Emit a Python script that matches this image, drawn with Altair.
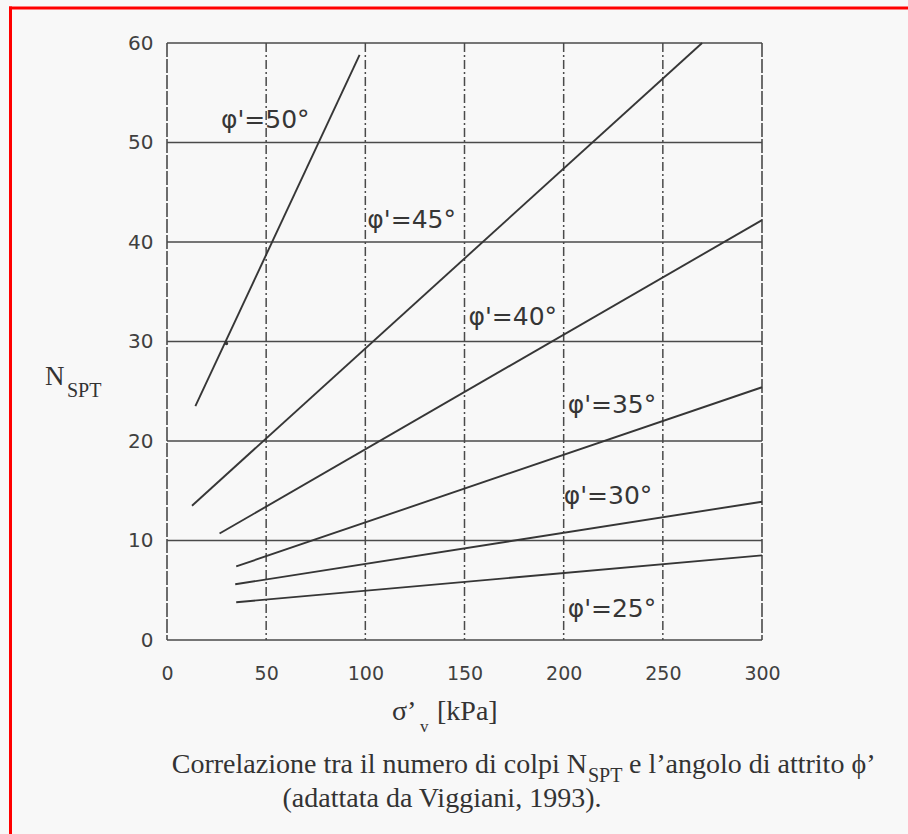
import altair as alt
import pandas as pd

# N_SPT against effective vertical stress, one straight segment per friction angle
angles = ["50", "45", "40", "35", "30", "25"]
sigma_start = [14.3, 12.6, 26.5, 34.9, 34.4, 34.9]
n_start = [23.5, 13.5, 10.7, 7.4, 5.6, 3.8]
sigma_end = [97.1, 269.8, 300.0, 300.0, 300.0, 300.0]
n_end = [58.8, 60.0, 42.2, 25.4, 13.9, 8.5]

# curve labels
label_text = ["φ'=50°", "φ'=45°", "φ'=40°", "φ'=35°", "φ'=30°", "φ'=25°"]
label_sigma = [27.2, 101.0, 152.0, 202.0, 200.0, 202.0]
label_n = [51.5, 41.4, 31.7, 22.8, 13.7, 2.3]

# small marker on the 50° curve
dot_sigma = [30.0]
dot_n = [29.8]

x_ticks = [0, 50, 100, 150, 200, 250, 300]
y_ticks = [0, 10, 20, 30, 40, 50, 60]

W, H = 595, 597
INK = "#363636"
SANS = "DejaVu Sans"
SERIF = "Liberation Serif"

x_scale = alt.Scale(domain=[0, 300], nice=False, zero=False)
y_scale = alt.Scale(domain=[0, 60], nice=False, zero=False)

X_AX = alt.Axis(values=x_ticks, grid=False, ticks=False, domain=False, title=None,
                labelFont=SANS, labelFontSize=19, labelColor="#404040",
                labelPadding=24, labelFlush=False)
Y_AX = alt.Axis(values=y_ticks, grid=False, ticks=False, domain=False, title=None,
                labelFont=SANS, labelFontSize=20, labelColor="#404040",
                labelPadding=14, labelFlush=False)

curves = pd.DataFrame({"angle": angles, "s0": sigma_start, "n0": n_start,
                       "s1": sigma_end, "n1": n_end})
labels = pd.DataFrame({"text": label_text, "s": label_sigma, "n": label_n})
dots = pd.DataFrame({"s": dot_sigma, "n": dot_n})
hgrid = pd.DataFrame({"n": y_ticks})
vgrid_inner = pd.DataFrame({"s": x_ticks[1:-1]})
vgrid_border = pd.DataFrame({"s": [x_ticks[0], x_ticks[-1]]})
one = pd.DataFrame({"k": [0]})

h_lines = alt.Chart(hgrid).mark_rule(color="#4a4a4a", strokeWidth=1.6).encode(
    y=alt.Y("n:Q", scale=y_scale, axis=Y_AX),
    x=alt.value(0), x2=alt.value(W),
)

v_inner = alt.Chart(vgrid_inner).mark_rule(
    color="#4a4a4a", strokeWidth=1.5, strokeDash=[9, 3, 2, 3]
).encode(
    x=alt.X("s:Q", scale=x_scale, axis=X_AX),
    y=alt.value(0), y2=alt.value(H),
)

v_border = alt.Chart(vgrid_border).mark_rule(
    color="#4a4a4a", strokeWidth=1.6, strokeDash=[14, 2]
).encode(
    x=alt.X("s:Q", scale=x_scale, axis=X_AX),
    y=alt.value(0), y2=alt.value(H),
)

curve_rules = alt.Chart(curves).mark_rule(color=INK, strokeWidth=1.9).encode(
    x=alt.X("s0:Q", scale=x_scale, axis=X_AX),
    x2="s1:Q",
    y=alt.Y("n0:Q", scale=y_scale, axis=Y_AX),
    y2="n1:Q",
)

dot_mark = alt.Chart(dots).mark_circle(color=INK, size=12, opacity=1).encode(
    x=alt.X("s:Q", scale=x_scale, axis=X_AX),
    y=alt.Y("n:Q", scale=y_scale, axis=Y_AX),
)

curve_labels = alt.Chart(labels).mark_text(
    font=SANS, fontSize=25, color=INK, align="left", baseline="alphabetic"
).encode(
    x=alt.X("s:Q", scale=x_scale, axis=X_AX),
    y=alt.Y("n:Q", scale=y_scale, axis=Y_AX),
    text="text:N",
)


def txt(s, x, y, size, align="left", font=SERIF, color="#333333"):
    return alt.Chart(one).mark_text(
        font=font, fontSize=size, color=color, align=align, baseline="alphabetic"
    ).encode(x=alt.value(x), y=alt.value(y), text=alt.value(s))


# y-axis title N_SPT
y_title = txt("N", -122, 342, 27) + txt("SPT", -100, 354, 20)

# x-axis title σ'_v [kPa]
x_title = txt("σ’", 225, 677, 28) + txt("v", 253, 689, 17) + txt("[kPa]", 270, 677, 28)

# caption
caption = (
    txt("Correlazione tra il numero di colpi N", 420, 730, 28, align="right")
    + txt("SPT", 421, 739, 20)
    + txt("e l’angolo di attrito ϕ’", 462, 730, 28)
    + txt("(adattata da Viggiani, 1993).", 275, 764, 28, align="center")
)

# red frame along the top and left edges of the page
frame = (
    alt.Chart(one).mark_rule(color="#ff0000", strokeWidth=3).encode(
        x=alt.value(-158), x2=alt.value(760), y=alt.value(-35))
    + alt.Chart(one).mark_rule(color="#ff0000", strokeWidth=3).encode(
        x=alt.value(-156.5), y=alt.value(-36.5), y2=alt.value(800))
)

chart = alt.layer(
    h_lines, v_inner, v_border, curve_rules, dot_mark, curve_labels,
    y_title, x_title, caption, frame,
).properties(
    width=W, height=H,
    autosize=alt.AutoSizeParams(type="none"),
    padding={"left": 167, "top": 43, "right": 146, "bottom": 194},
).configure(background="#f8f8f8").configure_view(stroke=None)

chart.save("out.html", embed_options={"renderer": "svg", "actions": False})
